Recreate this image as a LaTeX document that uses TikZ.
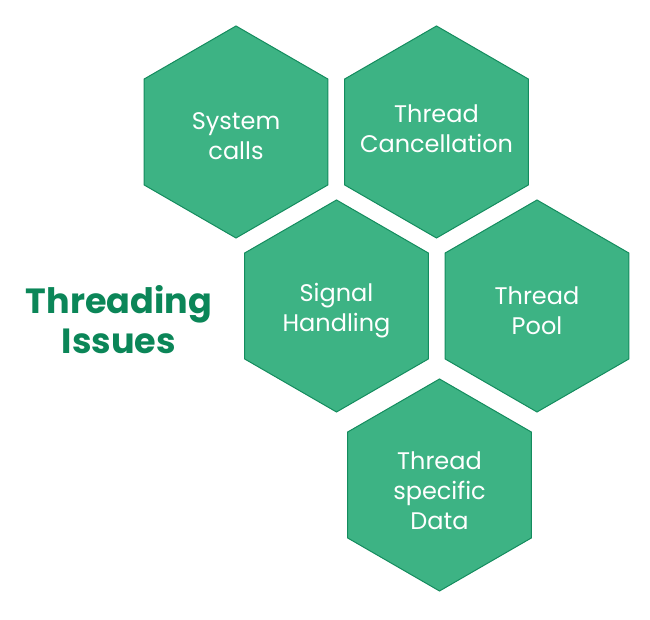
\documentclass[tikz,border=0pt]{standalone}
\usepackage{fontspec}
\setmainfont{Poppins}
\usetikzlibrary{shapes.geometric}
\definecolor{hexfill}{HTML}{3DB384}
\definecolor{hexline}{HTML}{148C5E}
\definecolor{titlegreen}{HTML}{0B8658}
\begin{document}
\begin{tikzpicture}[x=1pt,y=1pt,
  hexbox/.style={regular polygon, regular polygon sides=6, regular polygon rotate=30,
    minimum size=212pt, inner sep=0pt, outer sep=0pt, fill=hexfill, draw=hexline, line width=1pt},
  hextext/.style={text=white, align=center, inner sep=0pt, font=\fontsize{24}{30}\selectfont},
  titletext/.style={text=titlegreen, align=center, font=\fontsize{35}{40}\selectfont\bfseries}]
\useasboundingbox (0,0) rectangle (650,620);
\node[hexbox] (sys) at (236,488) {};
\node[hextext] (systxt) at ([yshift=-4pt]sys.center) {System\\calls};
\node[hexbox] (cancel) at (436.5,488) {};
\node[hextext] (canceltxt) at ([yshift=3pt]cancel.center) {Thread\\Cancellation};
\node[hexbox] (signal) at (336.5,314) {};
\node[hextext] (signaltxt) at ([yshift=-5pt]signal.center) {Signal\\Handling};
\node[hexbox] (pool) at (537,314) {};
\node[hextext] (pooltxt) at ([yshift=-5pt]pool.center) {Thread\\Pool};
\node[hexbox] (data) at (439.5,135) {};
\node[hextext] (datatxt) at ([yshift=-6pt]data.center) {Thread\\specific\\Data};
\node[titletext] (title) at (119,300) {Threading\\Issues};
\end{tikzpicture}
\end{document}
